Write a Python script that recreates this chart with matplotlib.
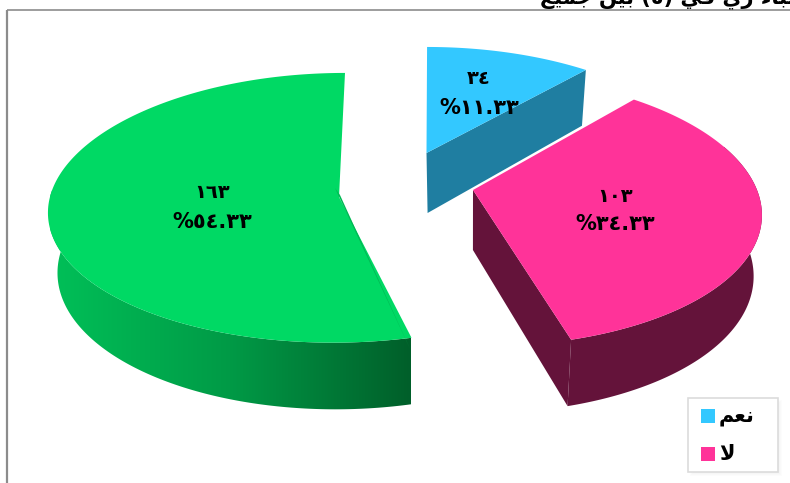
import numpy as np
import matplotlib
matplotlib.use("Agg")
import matplotlib.pyplot as plt
from matplotlib.patches import Polygon, Rectangle
from matplotlib.colors import LinearSegmentedColormap

# data
labels = ["ﻢﻌﻧ", "ﻻ"]
counts = [34, 103, 163]
count_labels = ["٣٤", "١٠٣", "١٦٣"]
pct_labels = ["%١١.٣٣", "%٣٤.٣٣", "%٥٤.٣٣"]
title_text = "ﻊﻴﻤﺟ ﻦﻴﺑ (٥) ﻲﻓ ﻱﺭ ﺀﺎﺒﺗﻻﺍ"

# styles, order: blue, pink, green
top_colors = ["#33c8ff", "#ff3399", "#00d964"]
wall_colors = ["#1f7ea1", "#64133a", "#64133a"]
apex_x = [426.5, 473, 339]
apex_y = [153, 190, 197]
radius_x = [280, 284, 291]
radius_y = [123, 133, 134]
persp_y = [0.16, 0.15, 0.08]
persp_x = [0.2, 0.16, 0.0]
skew_x = [0, 0, 6]
sag_y = [0, 0, 13]
label_x = [479, 615, 212]
label_y = [[79, 108], [197, 224], [192, 222]]
vanish_x = 430
depth = 60


def project(i, deg):
    a = np.radians(deg)
    c, s = np.cos(a), np.sin(a)
    x = vanish_x + (apex_x[i] - vanish_x + radius_x[i] * c) / (1 + persp_x[i] * s) + skew_x[i] * s
    y = apex_y[i] - radius_y[i] * s / (1 + persp_y[i] * s) + sag_y[i] * c * c
    return x, y


def lower(x, y, s=0.0):
    # same point on the bottom of the pie
    return vanish_x + (x - vanish_x) * 0.975, y + depth / (1 + 0.1 * s)


fig = plt.figure(figsize=(7.9, 4.83), dpi=100)
ax = fig.add_axes([0, 0, 1, 1])

# frame
ax.plot([6.5, 6.5], [483, 9.5], color="#8c8c8c", lw=1.6, solid_capstyle="butt")
ax.plot([6.5, 790], [9.5, 9.5], color="#8c8c8c", lw=1.2, solid_capstyle="butt")
ax.text(540, 3, title_text, fontsize=15, fontweight="bold", ha="left", va="baseline",
        family="DejaVu Sans", clip_on=False)

green_cmap = LinearSegmentedColormap.from_list("wall", ["#00c058", "#009a46", "#005f2a"])

total = sum(counts)
start = 90.0
for i, value in enumerate(counts):
    end = start - 360.0 * value / total
    angles = np.linspace(start, end, 200)
    px, py = project(i, angles)
    sins = np.sin(np.radians(angles))
    bx, by = lower(px, py, sins)

    # outer wall, only the front part shows
    front = sins < 0.35
    if front.any() and i > 0:
        outline = np.column_stack([np.r_[px[front], bx[front][::-1]],
                                   np.r_[py[front], by[front][::-1]]])
        if i == 2:
            im = ax.imshow(np.linspace(0, 1, 256).reshape(1, -1), cmap=green_cmap, aspect="auto",
                           extent=(50, 411, 420, 190), zorder=2)
            im.set_clip_path(Polygon(outline, closed=True, transform=ax.transData))
        else:
            ax.add_patch(Polygon(outline, closed=True, fc=wall_colors[i], ec="none", zorder=2))

    # cut walls
    ax0, ay0 = apex_x[i], apex_y[i]
    bx0, by0 = lower(ax0, ay0)
    if i < 2:
        ax.add_patch(Polygon([(ax0, ay0), (px[-1], py[-1]), (bx[-1], by[-1]), (bx0 + 1, by0)],
                             closed=True, fc=wall_colors[i], ec="none", zorder=2))

    # top face
    ax.add_patch(Polygon(np.column_stack([np.r_[ax0, px], np.r_[ay0, py]]),
                         closed=True, fc=top_colors[i], ec="none", zorder=3))

    if i == 2:
        # thin back wall showing through at the start of the slice
        ax.add_patch(Polygon([(px[0] - 1, py[0] + 12), (ax0 - 4, ay0 - 9), (ax0 + 1, ay0 - 2)],
                             closed=True, fc="#00b854", ec="none", zorder=4))

    ax.text(label_x[i], label_y[i][0], count_labels[i], fontsize=14, fontweight="bold",
            ha="center", va="center", family="DejaVu Sans", color="black", zorder=6)
    ax.text(label_x[i], label_y[i][1], pct_labels[i], fontsize=15, fontweight="bold",
            ha="center", va="center", family="DejaVu Sans", color="black", zorder=6)
    start = end

# legend
for k in range(6):
    ax.add_patch(Rectangle((690 + k, 400 + k), 92 - 2 * k, 76 - 2 * k, fc="black", alpha=0.012,
                           ec="none", zorder=7))
ax.add_patch(Rectangle((688, 397.5), 90, 74.5, fc="white", ec="#dcdcdc", lw=1.2, zorder=8))
legend_y = [416, 454]
for k in range(2):
    ax.add_patch(Rectangle((701, legend_y[k] - 7), 14, 14, fc=top_colors[k], ec="none", zorder=9))
    ax.text(719, legend_y[k], labels[k], fontsize=15, fontweight="bold", ha="left", va="center",
            family="DejaVu Sans", color="black", zorder=9)

ax.set_xlim(0, 790)
ax.set_ylim(483, 0)
ax.axis("off")
plt.savefig("out.png", dpi=100)
